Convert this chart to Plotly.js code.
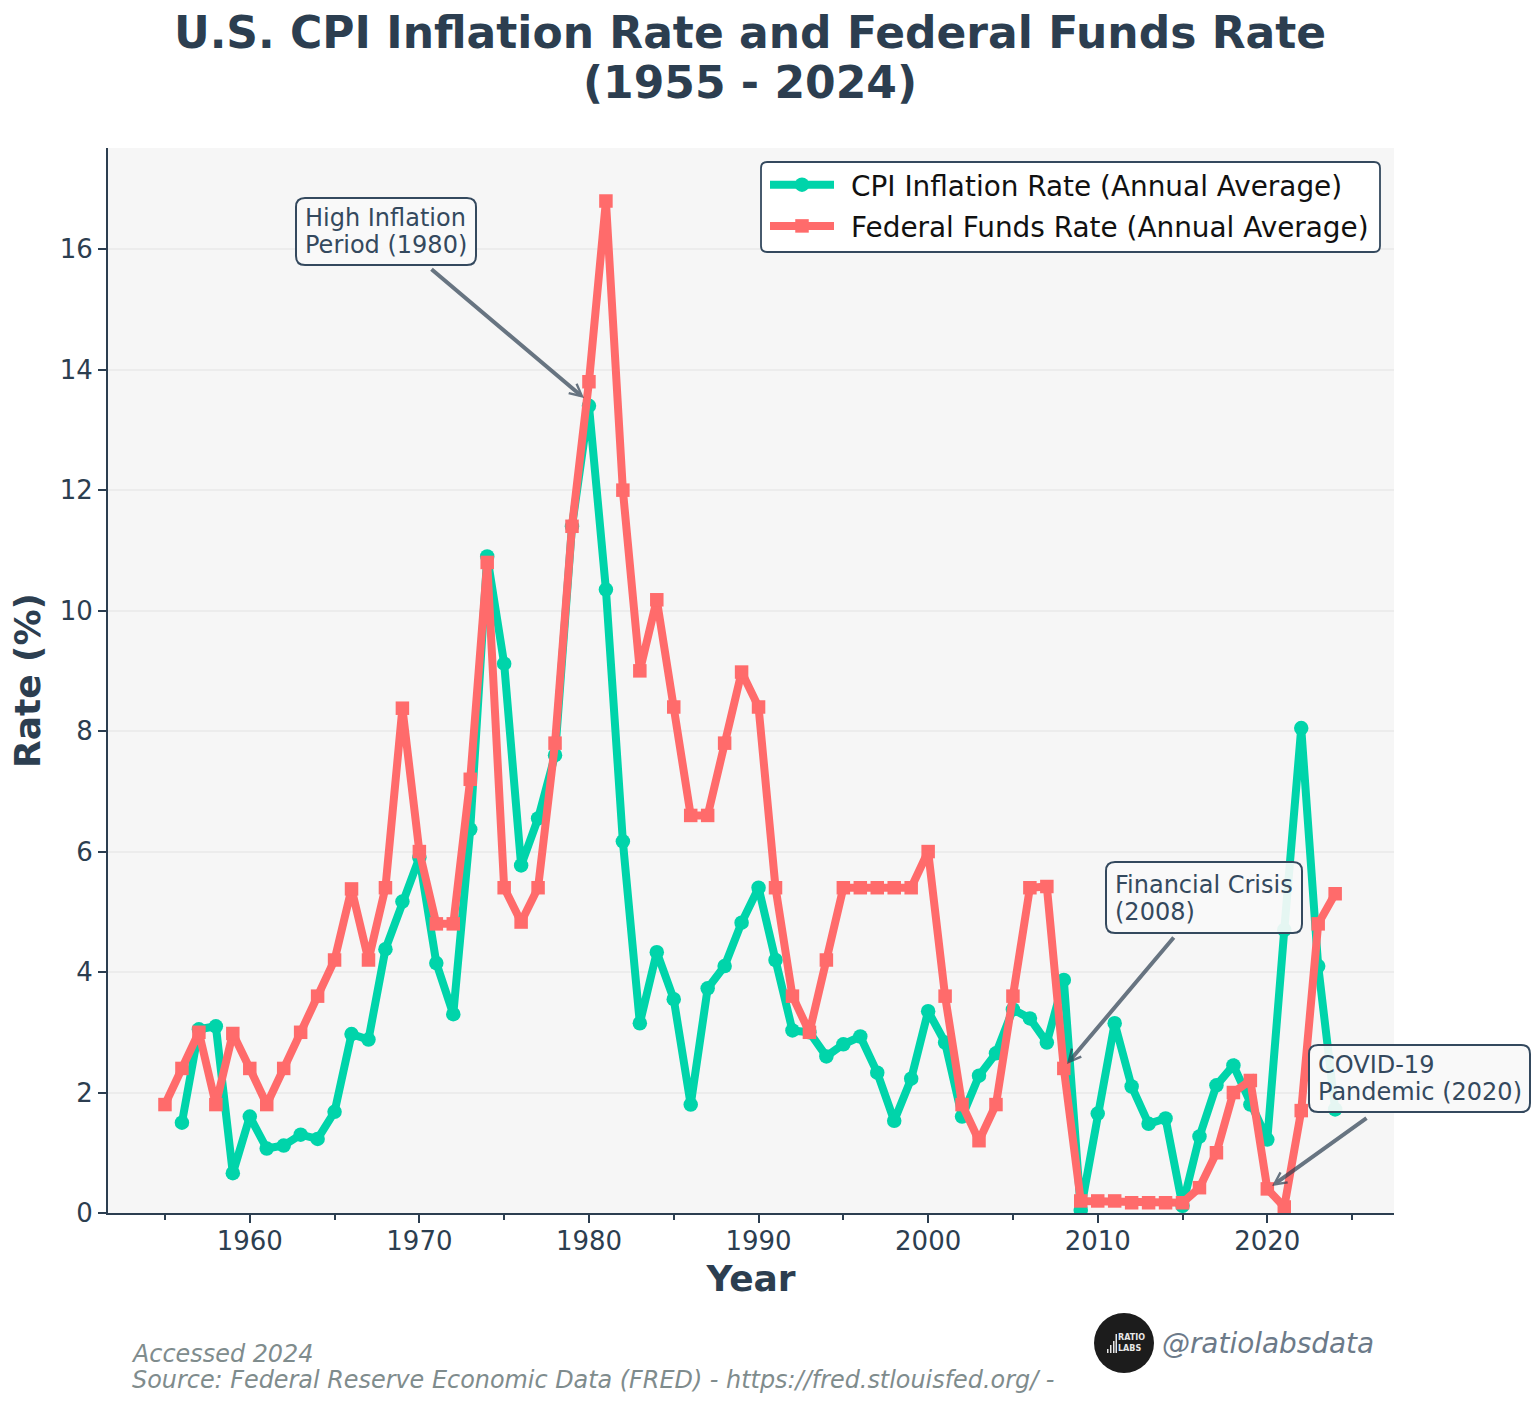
<!DOCTYPE html>
<html><head><meta charset="utf-8">
<script src="https://cdn.plot.ly/plotly-3.0.1.min.js"></script>
<style>html,body{margin:0;padding:0;background:#fff}#c{width:1536px;height:1406px}</style>
</head><body><div id="c"></div>
<script>
const cpiYears=[1956,1957,1958,1959,1960,1961,1962,1963,1964,1965,1966,1967,1968,1969,1970,1971,1972,1973,1974,1975,1976,1977,1978,1979,1980,1981,1982,1983,1984,1985,1986,1987,1988,1989,1990,1991,1992,1993,1994,1995,1996,1997,1998,1999,2000,2001,2002,2003,2004,2005,2006,2007,2008,2009,2010,2011,2012,2013,2014,2015,2016,2017,2018,2019,2020,2021,2022,2023,2024];
const cpiValues=[1.5,3.05,3.1,0.66,1.6,1.07,1.12,1.3,1.23,1.68,2.97,2.88,4.38,5.17,5.9,4.15,3.3,6.37,10.9,9.12,5.77,6.55,7.6,11.4,13.4,10.35,6.17,3.15,4.33,3.55,1.8,3.73,4.1,4.82,5.4,4.2,3.03,3.0,2.6,2.8,2.93,2.33,1.53,2.23,3.35,2.83,1.6,2.28,2.65,3.38,3.23,2.83,3.87,0.05,1.65,3.15,2.1,1.48,1.57,0.12,1.27,2.12,2.45,1.8,1.22,4.7,8.05,4.1,1.72];
const ffYears=[1955,1956,1957,1958,1959,1960,1961,1962,1963,1964,1965,1966,1967,1968,1969,1970,1971,1972,1973,1974,1975,1976,1977,1978,1979,1980,1981,1982,1983,1984,1985,1986,1987,1988,1989,1990,1991,1992,1993,1994,1995,1996,1997,1998,1999,2000,2001,2002,2003,2004,2005,2006,2007,2008,2009,2010,2011,2012,2013,2014,2015,2016,2017,2018,2019,2020,2021,2022,2023,2024];
const ffValues=[1.8,2.4,3.0,1.8,2.98,2.4,1.8,2.4,3.0,3.6,4.2,5.38,4.2,5.4,8.38,6.0,4.8,4.8,7.2,10.8,5.4,4.83,5.4,7.8,11.4,13.8,16.8,12.0,9.0,10.18,8.4,6.6,6.6,7.8,8.98,8.4,5.4,3.6,3.0,4.2,5.4,5.4,5.4,5.4,5.4,6.0,3.6,1.8,1.2,1.8,3.6,5.4,5.42,2.4,0.2,0.2,0.2,0.17,0.17,0.17,0.17,0.42,1.0,2.0,2.2,0.4,0.1,1.7,4.8,5.3];

const L=108,R=1394,T=148,B=1213,W=1536,H=1406;
const F='"DejaVu Sans", sans-serif', DARK='#2c3e50', MID='#34495e', GREY='#7f8c8d';
const px=x=>(x-L)/(R-L), py=y=>(B-y)/(B-T);
function rbox(x0,y0,x1,y1,r,fill,line,lw){
  const p=(x,y)=>px(x)+','+py(y);
  return {type:'path',xref:'paper',yref:'paper',layer:'above',fillcolor:fill,line:{color:line,width:lw},
    path:'M'+p(x0+r,y0)+'L'+p(x1-r,y0)+'Q'+p(x1,y0)+' '+p(x1,y0+r)+'L'+p(x1,y1-r)+'Q'+p(x1,y1)+' '+p(x1-r,y1)+'L'+p(x0+r,y1)+'Q'+p(x0,y1)+' '+p(x0,y1-r)+'L'+p(x0,y0+r)+'Q'+p(x0,y0)+' '+p(x0+r,y0)+'Z'};
}
function note(text,x,y,size,color){
  return {xref:'paper',yref:'paper',x:px(x),y:py(y),xanchor:'left',yanchor:'middle',align:'left',showarrow:false,text:text,font:{family:F,size:size,color:color}};
}
function arrow(x0,y0,x1,y1){
  return {xref:'paper',yref:'paper',x:px(x1),y:py(y1),ax:x0-x1,ay:y0-y1,axref:'pixel',ayref:'pixel',showarrow:true,text:'',arrowhead:5,arrowsize:0.6,arrowwidth:4,arrowcolor:'rgba(44,62,80,0.7)',standoff:0,startstandoff:0};
}
const bar=(x0,y0,x1,y1)=>({type:'rect',xref:'paper',yref:'paper',layer:'above',x0:px(x0),x1:px(x1),y0:py(y0),y1:py(y1),fillcolor:'#e8e8e8',line:{width:0}});
const traces=[
 {x:cpiYears,y:cpiValues,name:'CPI Inflation Rate (Annual Average)',legendgroup:'a',mode:'lines+markers',line:{color:'#00d4aa',width:8},marker:{symbol:'circle',size:14.5,color:'#00d4aa'}},
 {x:ffYears,y:ffValues,name:'Federal Funds Rate (Annual Average)',legendgroup:'b',mode:'lines+markers',line:{color:'#ff6b6b',width:8},marker:{symbol:'square',size:13.5,color:'#ff6b6b'}}
];
const layout={
 width:W,height:H,paper_bgcolor:'#fff',plot_bgcolor:'#f6f6f6',showlegend:true,
 margin:{l:L,r:W-R,t:T,b:H-B,pad:0},font:{family:F,color:DARK},
 title:{text:'<b>U.S. CPI Inflation Rate and Federal Funds Rate<br>(1955 - 2024)</b>',x:px(750),xref:'paper',xanchor:'center',y:1-48/H,yanchor:'middle',font:{family:F,size:44,color:DARK}},
 xaxis:{range:[1951.64,2027.47],tick0:1960,dtick:10,ticks:'outside',ticklen:8,tickwidth:2,tickcolor:DARK,tickfont:{family:F,size:26,color:DARK},ticklabelstandoff:-4,showgrid:false,zeroline:false,showline:true,linecolor:DARK,linewidth:2,
   minor:{tick0:1955,dtick:5,ticks:'outside',ticklen:5,tickwidth:1.5,tickcolor:DARK,showgrid:false},
   title:{text:'<b>Year</b>',font:{family:F,size:36,color:DARK},standoff:11}},
 yaxis:{range:[0,17.68],tick0:0,dtick:2,ticks:'outside',ticklen:8,tickwidth:2,tickcolor:DARK,tickfont:{family:F,size:26,color:DARK},showgrid:true,gridcolor:'#ececec',gridwidth:2,zeroline:false,showline:true,linecolor:DARK,linewidth:2,
   title:{text:'<b>Rate (%)</b>',font:{family:F,size:36,color:DARK},standoff:8}},
 legend:{x:px(765),y:py(160),xanchor:'left',yanchor:'top',bgcolor:'rgba(0,0,0,0)',borderwidth:0,font:{family:F,size:27.9,color:'#111'},itemwidth:64,traceorder:'grouped',tracegroupgap:2,itemsizing:'trace'},
 shapes:[
  rbox(761,162,1380,252,6,'#ffffff',MID,1.8),
  rbox(296,198,476,265,9,'rgba(248,248,248,0.92)',MID,2),
  rbox(1106,862,1302,933,9,'rgba(248,248,248,0.92)',MID,2),
  rbox(1309,1045,1530,1112,9,'rgba(248,248,248,0.92)',MID,2),
  {type:'circle',xref:'paper',yref:'paper',layer:'above',x0:px(1094),x1:px(1154),y0:py(1373),y1:py(1313),fillcolor:'#1c1c1c',line:{width:0}},
  bar(1107,1349,1108.5,1353),bar(1110,1345,1111.5,1353),bar(1113,1341,1114.5,1353),bar(1115.5,1334,1117,1353)
 ],
 annotations:[
  note('High Inflation<br>Period (1980)',303,234,24,MID),
  note('Financial Crisis<br>(2008)',1113,900,24,MID),
  note('COVID-19<br>Pandemic (2020)',1316,1080,24,MID),
  arrow(430,268,584,398),
  arrow(1175,936,1067,1064),
  arrow(1368,1117,1272,1186),
  note('<i>Accessed 2024</i>',129,1354,23.9,GREY),
  note('<i>Source: Federal Reserve Economic Data (FRED) - https://fred.stlouisfed.org/ -</i>',130,1380,23.9,GREY),
  note('<i>@ratiolabsdata</i>',1160,1343,27.9,'#6c7a89'),
  note('<b>RATIO</b>',1116,1337.5,8,'#e8e8e8'),
  note('<b>LABS</b>',1116,1348,8,'#e8e8e8')
 ]
};
Plotly.newPlot('c',traces,layout,{displayModeBar:false,responsive:false}).then(()=>{
  // matplotlib's tighter line spacing and legend text gap
  const t=document.querySelectorAll('.gtitle tspan.line');
  if(t[1]) t[1].setAttribute('dy','1.14em');
  document.querySelectorAll('.annotation-text').forEach(a=>{
    const l=a.querySelectorAll('tspan.line');
    if(l[1]) l[1].setAttribute('dy','1.13em');
  });
  document.querySelectorAll('.legendtext').forEach(e=>e.setAttribute('x',+e.getAttribute('x')+12));
  const sb=document.querySelector('.legend .scrollbox');
  if(sb){sb.removeAttribute('clip-path');sb.style.clipPath='none';}
  const lg=document.querySelector('.legend');
  if(lg){lg.removeAttribute('clip-path');lg.style.overflow='visible';}
});
</script></body></html>
